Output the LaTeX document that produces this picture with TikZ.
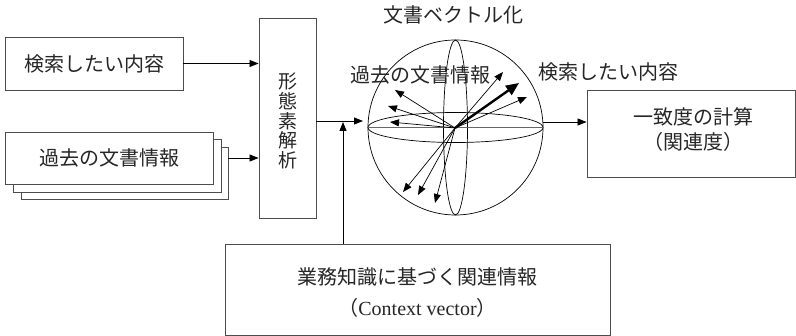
\documentclass[tikz,border=0pt]{standalone}
\usepackage{fontspec}
\setmainfont{Liberation Serif}
\newfontfamily\cjk{Noto Sans CJK JP}
\usetikzlibrary{arrows.meta}
\begin{document}
\begin{tikzpicture}[x=1pt,y=-1pt,
  txt/.style={font=\cjk\fontsize{20}{25}\selectfont, text=black!85, inner sep=0},
  box/.style={draw=black!70, line width=0.9pt, fill=white, inner sep=0},
  arr/.style={line width=0.8pt, -{Triangle[length=9pt,width=7pt]}},
  varr/.style={line width=0.7pt, -{Triangle[length=9pt,width=7pt]}},
  tarr/.style={line width=2.4pt, -{Triangle[length=13pt,width=11pt]}}]
\useasboundingbox (0,0) rectangle (796,336);
% left boxes
\node[box, minimum width=178pt, minimum height=53pt] (q) at (94,63.5) {};
\node[txt] at (94,63.5) {検索したい内容};
\node[box, minimum width=207pt, minimum height=52pt] (s3) at (124.5,173) {};
\node[box, minimum width=208pt, minimum height=53pt] (s2) at (117,165.5) {};
\node[box, minimum width=208pt, minimum height=52pt] (s1) at (109,158) {};
\node[txt] at (109,158) {過去の文書情報};
% morphological analysis
\node[box, minimum width=57pt, minimum height=200pt] (k) at (287.5,118) {};
\node[txt, font=\cjk\fontsize{19}{19.6}\selectfont, align=center] at (287.5,121) {形\\態\\素\\解\\析};
\draw[arr] (q.east) -- (q.east -| k.west);
\draw[arr] (s1.east -| s3.east) -- (s1.east -| k.west);
% context box
\node[box, minimum width=385pt, minimum height=91pt] (ctx) at (417.5,289.5) {};
\node[txt, align=center, font=\cjk\fontsize{20}{31}\selectfont] at (417.5,292.5) {業務知識に基づく関連情報\\（{\rmfamily Context vector}）};
% sphere
\node[circle, draw=black, line width=0.7pt, minimum size=175pt, inner sep=0] (sph) at (455.5,127.5) {};
\draw[line width=0.7pt] (sph.center) ellipse [x radius=87.5, y radius=15];
\draw[line width=0.7pt] (sph.center) ellipse [x radius=12, y radius=87.5];
\draw[black!60, line width=1.4pt] (sph.west) -- (sph.east);
\coordinate (o) at (455,128);
\coordinate (sin) at (363,121);
\coordinate (vin) at (343,122);
\draw[arr] (k.east |- sin) -- (sin);
\draw[arr] (ctx.north -| vin) -- (vin);
% vectors
\draw[tarr] (o) -- (519,83);
\draw[varr] (o) -- (503,72);
\draw[varr] (o) -- (527,97);
\draw[varr] (o) -- (395,90);
\draw[varr] (o) -- (388,106);
\draw[varr] (o) -- (390,122);
\draw[varr] (o) -- (403,192);
\draw[varr] (o) -- (418,195);
\draw[varr] (o) -- (435,203);
% labels
\node[txt] (lt) at (453,15) {文書ベクトル化};
\node[txt] (lp) at (420,75) {過去の文書情報};
\node[txt] (lq) at (608,72) {検索したい内容};
% result box
\node[box, minimum width=208pt, minimum height=87pt] (r) at (691,133.5) {};
\node[txt, align=center] at (693,129.5) {一致度の計算\\（関連度）};
\draw[arr] (sph.east |- 0,122) -- (r.west |- 0,122);
\end{tikzpicture}
\end{document}
